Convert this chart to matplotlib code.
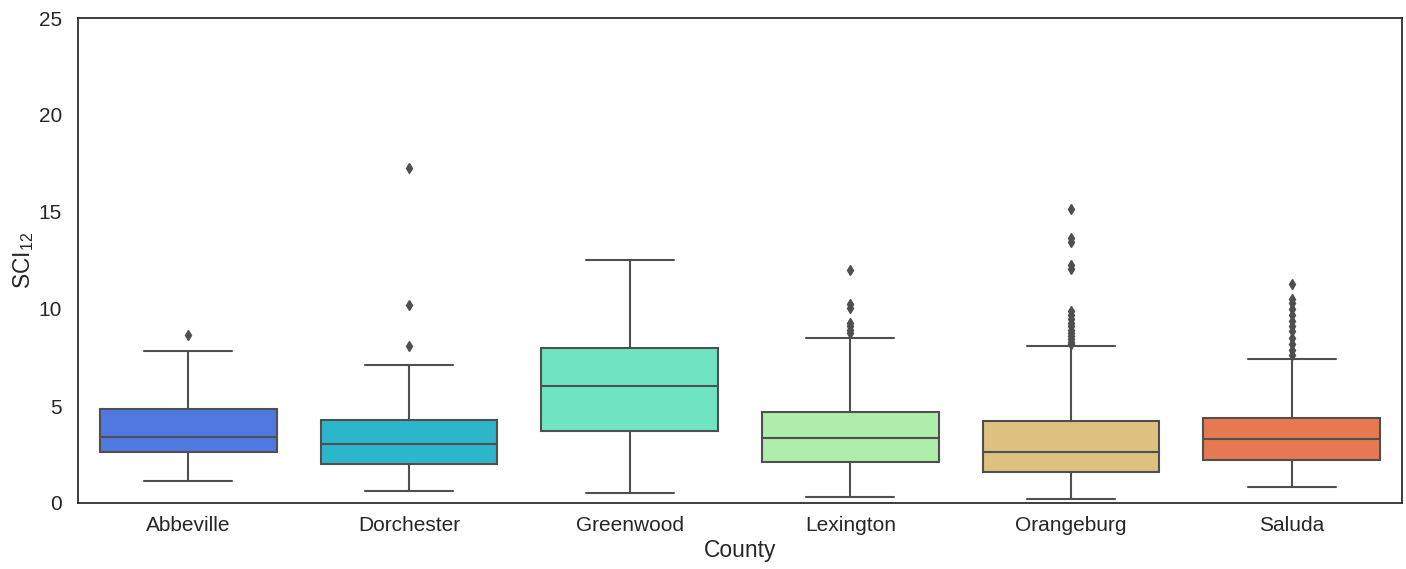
import matplotlib
matplotlib.use("Agg")
import matplotlib.pyplot as plt
import seaborn as sns

# Five-number summaries of SCI12 by county, plus the points beyond the whiskers
counties = ["Abbeville", "Dorchester", "Greenwood", "Lexington", "Orangeburg", "Saluda"]
whisker_low = [1.13, 0.60, 0.52, 0.33, 0.22, 0.84]
q1 = [2.61, 2.01, 3.69, 2.11, 1.61, 2.23]
median = [3.40, 3.02, 6.01, 3.33, 2.61, 3.30]
q3 = [4.83, 4.29, 7.99, 4.67, 4.24, 4.36]
whisker_high = [7.82, 7.10, 12.51, 8.51, 8.09, 7.41]
outliers = [
    [8.66],
    [17.25, 10.21, 8.07],
    [],
    [12.01, 10.25, 10.05, 9.30, 9.10, 8.90, 8.75],
    [15.14, 13.65, 13.45, 12.25, 12.05, 9.90, 9.70, 9.50, 9.30, 9.10,
     8.90, 8.75, 8.60, 8.45, 8.30, 8.20],
    [11.29, 10.50, 10.30, 10.00, 9.70, 9.40, 9.10, 8.85, 8.50, 8.20, 7.90, 7.65],
]
y_ticks = [0, 5, 10, 15, 20, 25]

sns.set_style("white")
plt.rcParams["font.family"] = ["Liberation Sans", "DejaVu Sans"]
plt.rcParams["mathtext.default"] = "regular"

fig = plt.figure(figsize=(14.06, 5.69), dpi=100)
ax = fig.add_axes([78 / 1406, 66 / 569, 1324 / 1406, 485 / 569])

palette = [sns.desaturate(c, 0.75) for c in sns.color_palette("rainbow", len(counties))]
gray = "#4f4f4f"

stats = []
for i, name in enumerate(counties):
    stats.append(dict(label=name, whislo=whisker_low[i], q1=q1[i], med=median[i],
                      q3=q3[i], whishi=whisker_high[i], fliers=outliers[i]))

positions = list(range(len(counties)))
res = ax.bxp(stats, positions=positions, widths=0.8, patch_artist=True,
             showfliers=True,
             boxprops=dict(edgecolor=gray, linewidth=1.5),
             medianprops=dict(color=gray, linewidth=1.5),
             whiskerprops=dict(color=gray, linewidth=1.5),
             capprops=dict(color=gray, linewidth=1.5),
             flierprops=dict(marker="d", markerfacecolor=gray, markeredgecolor=gray,
                             markersize=5.5, linestyle="none"),
             capwidths=0.4)
for box, col in zip(res["boxes"], palette):
    box.set_facecolor(col)

ax.set_xlim(-0.5, len(counties) - 0.5)
ax.set_ylim(0, 25)
ax.set_yticks(y_ticks)
ax.set_xticks(positions)
ax.set_xticklabels(counties)
ax.tick_params(axis="both", labelsize=15, colors="#262626")
ax.tick_params(axis="x", pad=6)
ax.tick_params(axis="y", pad=8)
ax.set_xlabel("County", fontsize=16.4, color="#262626", labelpad=3)
ax.set_ylabel("SCI$_{12}$", fontsize=16.4, color="#262626", labelpad=2)
for sp in ax.spines.values():
    sp.set_visible(True)
    sp.set_color("#262626")
    sp.set_linewidth(1.25)

fig.savefig("out.png", dpi=100)
